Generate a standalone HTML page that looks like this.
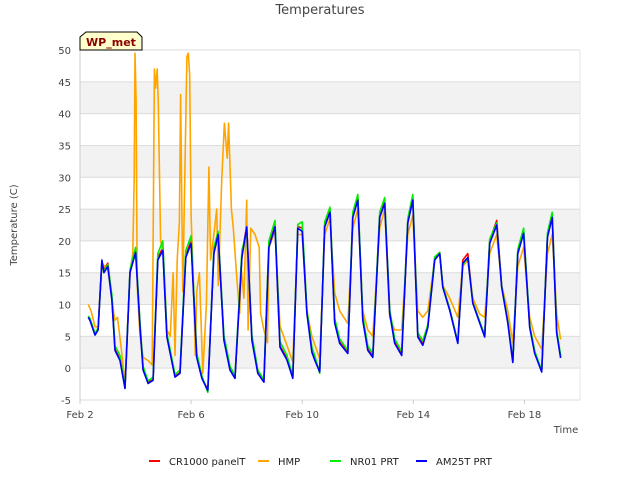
<!DOCTYPE html>
<html><head><meta charset="utf-8"><style>
body{margin:0;background:#fff;font-family:"Liberation Sans","DejaVu Sans",sans-serif;}
svg text{font-family:"DejaVu Sans","Liberation Sans",sans-serif;}
</style></head><body>
<svg id="chart" width="640" height="480" viewBox="0 0 640 480" xmlns="http://www.w3.org/2000/svg">
<rect x="0" y="0" width="640" height="480" fill="#fff"/>
<text x="320" y="14" text-anchor="middle" font-size="13" fill="#444">Temperatures</text>
<g id="bands"></g><g id="grid"></g><g id="yticks"></g><g id="xticks"></g><g id="series"></g>
<text transform="translate(17,225) rotate(-90)" text-anchor="middle" font-size="10" fill="#444">Temperature (C)</text>
<text x="566" y="433" text-anchor="middle" font-size="10" fill="#444">Time</text>
<g>
<path d="M80,50 L80,37 L86,32 L137,32 L142,37 L142,50 Z" fill="#ffffcc" stroke="#000" stroke-width="1"/>
<text x="111" y="46" text-anchor="middle" font-size="11" font-weight="bold" fill="#8b0000">WP_met</text>
</g>
<g id="legend"></g>
</svg>
<script>
const yTicks=[-5,0,5,10,15,20,25,30,35,40,45,50];
const xTickDays=[0,4,8,12,16];
const xTickLabels=["Feb 2","Feb 6","Feb 10","Feb 14","Feb 18"];
const seriesNames=["CR1000 panelT","HMP","NR01 PRT","AM25T PRT"];
const T=[0.3,0.36,0.54,0.65,0.79,0.86,1.0,1.15,1.26,1.44,1.62,1.8,2.0,2.16,2.27,2.45,2.63,2.8,2.98,3.13,3.42,3.6,3.81,4.0,4.2,4.39,4.6,4.82,4.97,5.18,5.4,5.58,5.83,6.0,6.19,6.4,6.62,6.8,7.02,7.2,7.45,7.66,7.84,8.0,8.17,8.35,8.45,8.63,8.81,9.0,9.17,9.35,9.64,9.82,10.0,10.18,10.36,10.54,10.79,10.97,11.15,11.33,11.58,11.8,11.98,12.16,12.34,12.52,12.77,12.95,13.06,13.31,13.6,13.78,13.96,14.14,14.39,14.57,14.75,15.0,15.18,15.4,15.58,15.76,15.97,16.19,16.37,16.62,16.83,17.0,17.16,17.3];
const AM25T=[8,7.5,5.2,6,17,15,16,10.7,2.8,1.2,-3.2,15,18.2,6.5,-0.3,-2.4,-1.9,17,18.5,4.9,-1.4,-0.8,17.4,19.6,1.7,-1.6,-3.5,18,21,4.4,-0.3,-1.6,17.4,22.2,4.4,-0.8,-2.2,19,22.2,3.3,1.3,-1.6,22,21.5,8.6,2.5,1.3,-0.6,22.2,24.5,7.1,3.9,2.3,23.7,26.4,7.5,2.8,1.7,23.7,25.9,8.6,3.9,2.0,22.8,26.4,4.9,3.6,6.4,17,18,12.7,9.1,3.9,16.5,17.4,10.2,7.1,4.9,19.6,22.5,12.7,7.1,0.9,18,21.2,6.4,2.3,-0.6,20.6,23.7,5.5,1.6];
const NR01=[8.2,7.8,5.5,6.3,16.5,15.3,16.3,11.5,3.5,2,-3,15.5,19,7.2,0.3,-2,-1.4,18,20,5.5,-1,-0.3,18.5,20.8,2.4,-1.2,-3.8,19,21.5,5.2,0.3,-1.2,18.5,21.5,5.2,-0.3,-1.8,20,23.2,4.2,2,-1.2,22.6,23,9.2,3.3,2,-0.8,23,25.3,7.8,4.6,2.8,24.5,27.3,8.2,3.5,2.3,24.5,26.8,9.2,4.6,2.6,23.5,27.3,5.6,4.3,6.8,17.5,18.2,12.9,9.3,4.1,16.3,17.3,10.4,7.3,5.2,20.3,22.8,12.9,7.4,1.2,18.7,22,6.8,2.7,-0.4,21.3,24.5,6,2];
const CR1000=[8,7.6,5.3,6.1,16.8,15.5,16.5,10.9,3,1.4,-3.1,15.2,18.6,6.7,-0.2,-2.2,-1.8,17.3,19,5,-1.3,-0.7,17.7,20,1.9,-1.5,-3.4,18.3,21.3,4.6,-0.2,-1.5,17.7,22.4,4.6,-0.7,-2,19.3,22.5,3.5,1.5,-1.4,22.3,22,8.8,2.7,1.5,-0.5,22.5,25,7.3,4.1,2.5,24,27,7.7,3,1.9,24,26.4,8.8,4.1,2.2,23.1,26.8,5.1,3.8,6.6,17.3,18.2,12.9,9.3,4.1,17,18,10.4,7.3,5.1,20,23.2,12.9,7.3,1.1,18.3,21.5,6.6,2.5,-0.5,21,24,5.7,1.8];
const TH=[0.3,0.4,0.54,0.65,0.79,1.0,1.15,1.25,1.35,1.5,1.62,1.8,1.9,1.95,1.98,2.02,2.06,2.16,2.27,2.45,2.6,2.68,2.72,2.78,2.82,2.9,3.0,3.13,3.25,3.35,3.42,3.5,3.58,3.62,3.7,3.85,3.9,3.95,4.0,4.08,4.15,4.2,4.3,4.42,4.55,4.64,4.7,4.82,4.92,4.98,5.1,5.2,5.3,5.35,5.45,5.52,5.65,5.75,5.8,5.9,6.0,6.05,6.15,6.3,6.45,6.5,6.62,6.75,6.8,7.02,7.2,7.45,7.66,7.84,8.0,8.17,8.35,8.63,8.81,9.0,9.17,9.35,9.64,9.82,10.0,10.18,10.36,10.54,10.79,10.97,11.15,11.33,11.58,11.8,11.98,12.16,12.34,12.52,12.77,12.95,13.06,13.31,13.6,13.78,13.96,14.14,14.39,14.57,14.75,15.0,15.18,15.4,15.58,15.76,15.97,16.19,16.37,16.62,16.83,17.0,17.16,17.3];
const HMP=[10,9,6.5,6.5,16.5,15.5,11,7.5,8,2.5,-2.5,15,18,30,49.5,42,13,5,1.7,1.2,0.5,47,44,47,41.6,20,18,6,5,15,2,17,23,43,12,49,49.5,46,24,14,2,12,15,-0.8,10,31.6,17,21,25,13,29.5,38.5,33,38.5,25,22,14,8.6,16,11,26.4,6,22,21,19,8.6,6,4,19,21.5,6.6,3.6,1,21,21,9,5,1.5,21,23.5,11.8,9,7,22,25,9,6,5,22,25,8,6,6,21,24,9,8,9,17,18,13,11,8,16,17,11,8.5,8,18,21,13,9,4,16,19,8,5,3,18,21,8.5,4.5];
const X0=80,X1=580,Y0=400,Y1=50,DMIN=0,DMAX=18,VMIN=-5,VMAX=50;
function xs(d){return X0+(d-DMIN)/(DMAX-DMIN)*(X1-X0);}
function ys(v){return Y0-(v-VMIN)/(VMAX-VMIN)*(Y0-Y1);}
const NS="http://www.w3.org/2000/svg";
function mk(tag,attrs,parent){const e=document.createElementNS(NS,tag);for(const k in attrs)e.setAttribute(k,attrs[k]);parent.appendChild(e);return e;}
const bands=document.getElementById('bands');
for(let v=VMIN;v<VMAX;v+=5){const i=(v-VMIN)/5;if(i%2===1){const r=mk('rect',{x:X0,y:ys(v+5),width:X1-X0,height:ys(v)-ys(v+5),fill:'#f2f2f2'},bands);

}}
const grid=document.getElementById('grid'),yt=document.getElementById('yticks');
yTicks.forEach(v=>{const l=mk('line',{x1:X0,x2:X1,y1:ys(v),y2:ys(v),stroke:'#dcdcdc','stroke-width':1},grid);


const t=mk('text',{x:X0-9,y:ys(v)+4,'text-anchor':'end','font-size':10,fill:'#444'},yt);t.textContent=v;

});
mk('line',{x1:X0,x2:X0,y1:Y1,y2:Y0,stroke:'#ccc'},grid);
mk('line',{x1:X1,x2:X1,y1:Y1,y2:Y0,stroke:'#e6e6e6'},grid);
const xt=document.getElementById('xticks');
xTickDays.forEach((d,i)=>{const t=mk('text',{x:xs(d),y:Y0+18,'text-anchor':'middle','font-size':10,fill:'#444'},xt);t.textContent=xTickLabels[i];


mk('line',{x1:xs(d),x2:xs(d),y1:Y0,y2:Y0+4,stroke:'#ccc'},xt);});
const sg=document.getElementById('series');
function line(ts,vs,color,name){const p=ts.map((d,i)=>(i?'L':'M')+xs(d).toFixed(1)+','+ys(vs[i]).toFixed(1)).join(' ');
const e=mk('path',{d:p,fill:'none',stroke:color,'stroke-width':1.6,'stroke-linejoin':'round'},sg);

}
line(T,CR1000,'#ff0000','series-cr1000-panelt');
line(TH,HMP,'#ffa500','series-hmp');
line(T,NR01,'#00ee00','series-nr01-prt');
line(T,AM25T,'#0000ff','series-am25t-prt');
const colors=['#ff0000','#ffa500','#00ee00','#0000ff'];
const lx=[149,258,330,416];
const lg=document.getElementById('legend');
seriesNames.forEach((n,i)=>{const g=mk('g',{},lg);


mk('line',{x1:lx[i],x2:lx[i]+11,y1:461,y2:461,stroke:colors[i],'stroke-width':2},g);
const t=mk('text',{x:lx[i]+20,y:465,'font-size':10,fill:'#222'},g);t.textContent=n;});
</script>
</body></html>
